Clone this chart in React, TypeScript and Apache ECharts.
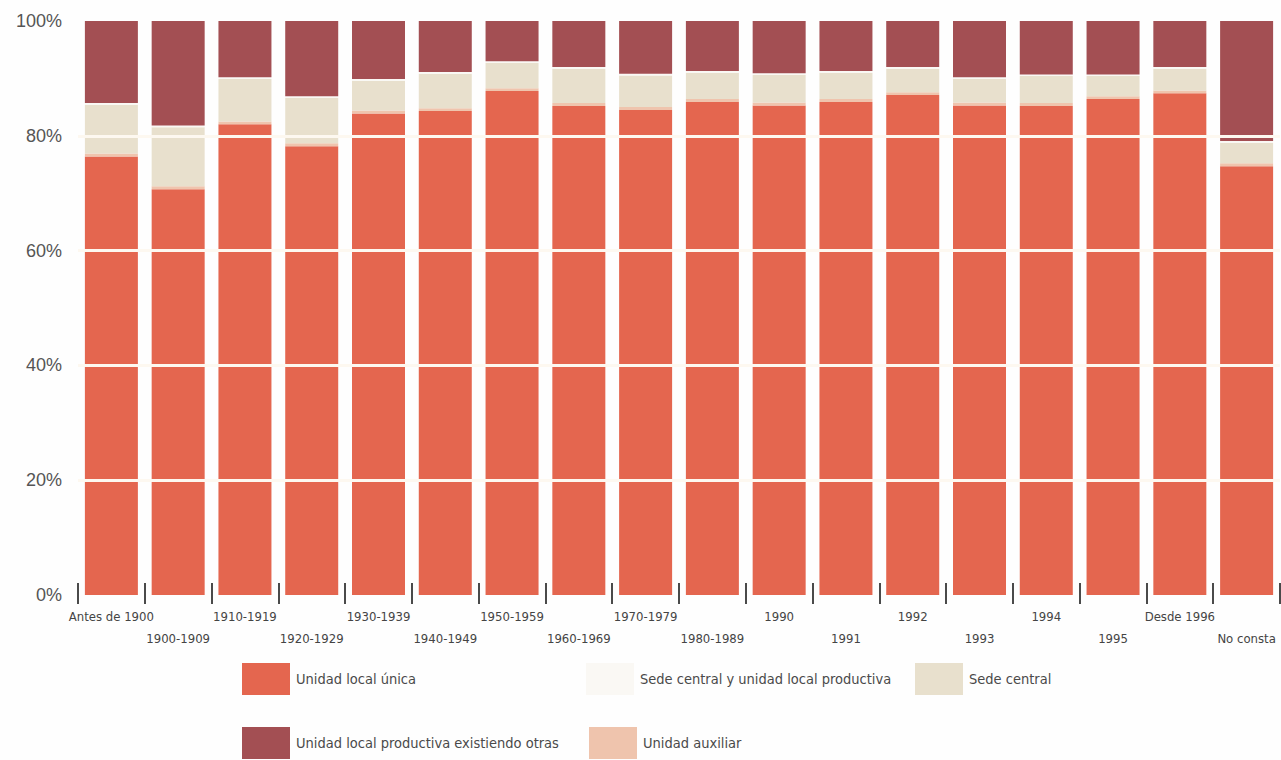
import React, { useEffect, useRef } from "react";
import * as echarts from "echarts";

const categories = [
  "Antes de 1900", "1900-1909", "1910-1919", "1920-1929", "1930-1939", "1940-1949",
  "1950-1959", "1960-1969", "1970-1979", "1980-1989", "1990", "1991",
  "1992", "1993", "1994", "1995", "Desde 1996", "No consta",
];

const unidadLocalUnica = [76.4, 70.7, 82.0, 78.2, 83.9, 84.3, 87.8, 85.2, 84.5, 85.9, 85.3, 85.9, 87.1, 85.3, 85.2, 86.4, 87.4, 74.7];
const unidadAuxiliar = [0.5, 0.5, 0.5, 0.5, 0.5, 0.5, 0.5, 0.5, 0.5, 0.5, 0.5, 0.5, 0.5, 0.5, 0.5, 0.5, 0.5, 0.5];
const sedeCentral = [8.5, 10.3, 7.4, 7.9, 5.2, 6.0, 4.4, 6.0, 5.5, 4.6, 4.8, 4.6, 4.1, 4.1, 4.7, 3.5, 3.8, 3.6];
const sedeCentralYProductiva = [0.3, 0.3, 0.3, 0.3, 0.3, 0.3, 0.3, 0.3, 0.3, 0.3, 0.3, 0.3, 0.3, 0.3, 0.3, 0.3, 0.3, 0.3];
const productivaExistiendoOtras = [14.3, 18.2, 9.8, 13.1, 10.1, 8.9, 7.0, 8.0, 9.2, 8.7, 9.1, 8.7, 8.0, 9.8, 9.3, 9.3, 8.0, 20.9];

const yTicks = [0, 20, 40, 60, 80, 100];
const whiteLines = [20, 40, 60, 80];

const NARROW = "'Liberation Sans Narrow', 'DejaVu Sans Condensed', 'Arial Narrow', sans-serif";

export default function App() {
  const ref = useRef<HTMLDivElement>(null);

  useEffect(() => {
    if (!ref.current) return;
    const chart = echarts.init(ref.current, undefined, { renderer: "svg" });

    const legendBase = {
      orient: "horizontal",
      icon: "rect",
      itemWidth: 48,
      itemHeight: 32,
      padding: 0,
      selectedMode: false,
      textStyle: { fontFamily: NARROW, fontSize: 14.5, color: "#4a4a4a", padding: [0, 0, 0, 1] },
    };

    const mk = (name: string, data: number[], color: string, extra: any = {}) => ({
      name,
      type: "bar",
      stack: "total",
      barWidth: 53,
      data,
      itemStyle: { color },
      emphasis: { disabled: true },
      ...extra,
    });

    chart.setOption({
      animation: false,
      backgroundColor: "#fefefe",
      grid: { left: 78, right: 1, top: 21, bottom: 165 },
      legend: [
        { ...legendBase, data: ["Unidad local única"], left: 242, top: 663 },
        { ...legendBase, data: ["Sede central y unidad local productiva"], left: 586, top: 663 },
        { ...legendBase, data: ["Sede central"], left: 915, top: 663 },
        { ...legendBase, data: ["Unidad local productiva existiendo otras"], left: 242, top: 727 },
        { ...legendBase, data: ["Unidad auxiliar"], left: 589, top: 727 },
      ],
      xAxis: {
        type: "category",
        data: categories,
        offset: -12,
        axisLine: { show: false },
        axisTick: { show: true, length: 21, lineStyle: { color: "#4a4a4a", width: 2 } },
        axisLabel: {
          interval: 0,
          margin: 22,
          fontFamily: NARROW,
          fontSize: 13,
          lineHeight: 22,
          color: "#444",
          formatter: (v: string, i: number) => (i % 2 === 1 ? "\n" + v : v),
        },
      },
      yAxis: {
        type: "value",
        min: yTicks[0],
        max: yTicks[yTicks.length - 1],
        interval: 20,
        axisLine: { show: false },
        axisTick: { show: false },
        splitLine: { show: false },
        axisLabel: {
          margin: 16,
          fontFamily: "'Liberation Sans', Arial, sans-serif",
          fontSize: 18,
          color: "#555",
          formatter: "{value}%",
        },
      },
      series: [
        mk("Unidad local única", unidadLocalUnica, "#e4664f"),
        mk("Unidad auxiliar", unidadAuxiliar, "#efc4ad"),
        mk("Sede central", sedeCentral, "#e8e0cd"),
        mk("Sede central y unidad local productiva", sedeCentralYProductiva, "#faf8f4"),
        mk("Unidad local productiva existiendo otras", productivaExistiendoOtras, "#a34f53", {
          markLine: {
            silent: true,
            symbol: ["none", "none"],
            label: { show: false },
            lineStyle: { color: "#fdf8f0", width: 3, type: "solid" },
            data: whiteLines.map((v) => ({ yAxis: v })),
            z: 10,
          },
        }),
      ],
    });

    return () => chart.dispose();
  }, []);

  return (
    <div
      ref={ref}
      style={{ position: "absolute", left: 0, top: 0, width: 1281, height: 760 }}
    />
  );
}
